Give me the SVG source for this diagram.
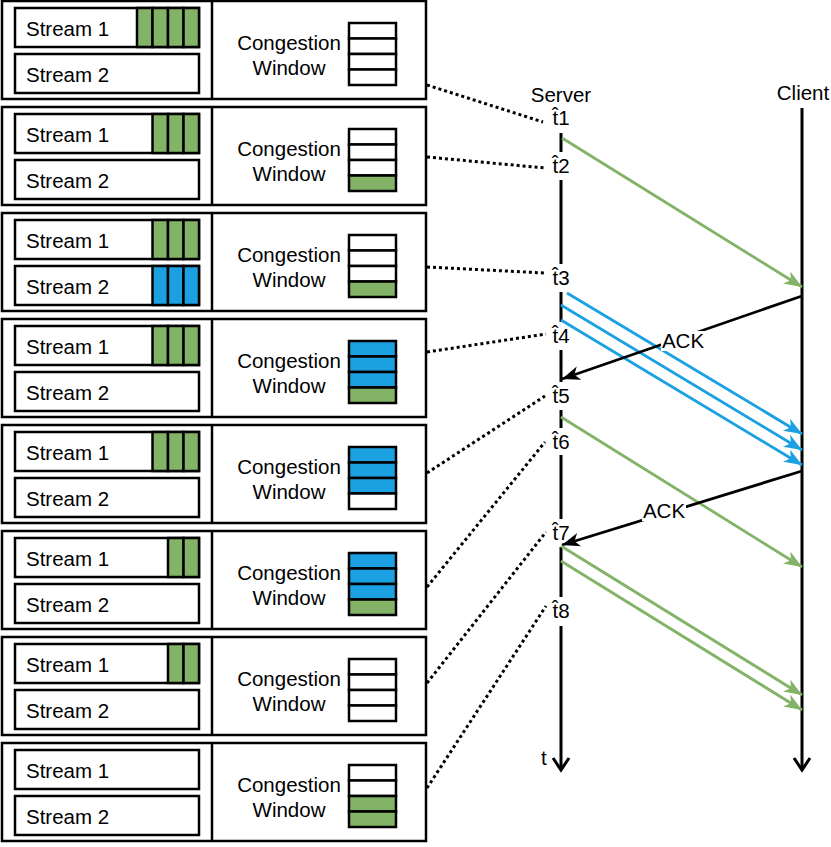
<svg xmlns="http://www.w3.org/2000/svg" width="831" height="847" viewBox="0 0 831 847">
<style>
.box{fill:#fff;stroke:#000;stroke-width:2.5}
.g{fill:#82b366;stroke:#000;stroke-width:2.5}
.b{fill:#1ba1e2;stroke:#000;stroke-width:2.5}
.w{fill:#fff;stroke:#000;stroke-width:2.5}
.div{stroke:#000;stroke-width:2.5}
text{font-family:"Liberation Sans",Arial,sans-serif;font-size:20.5px;fill:#000}
.c{text-anchor:middle}
.dot{stroke:#000;stroke-width:3;stroke-dasharray:3 3;fill:none}
.life{stroke:#000;stroke-width:3;fill:none}
.ga{stroke:#82b366;stroke-width:2.8;fill:none;marker-end:url(#mg)}
.ba{stroke:#1ba1e2;stroke-width:2.8;fill:none;marker-end:url(#mb)}
.ka{stroke:#000;stroke-width:2.8;fill:none;marker-end:url(#mk)}
</style>
<defs>
<marker id="mg" markerUnits="userSpaceOnUse" markerWidth="20" markerHeight="16" refX="18" refY="7" orient="auto"><path d="M0,0 L18,7 L0,14 L5,7 Z" fill="#82b366"/></marker>
<marker id="mb" markerUnits="userSpaceOnUse" markerWidth="20" markerHeight="16" refX="18" refY="7" orient="auto"><path d="M0,0 L18,7 L0,14 L5,7 Z" fill="#1ba1e2"/></marker>
<marker id="mk" markerUnits="userSpaceOnUse" markerWidth="20" markerHeight="16" refX="18" refY="7" orient="auto"><path d="M0,0 L18,7 L0,14 L5,7 Z" fill="#000"/></marker>
<g id="frame">
<rect class="box" x="2" y="0" width="424" height="98"/>
<line class="div" x1="212" y1="0" x2="212" y2="98"/>
<rect class="box" x="15" y="7" width="184" height="39"/>
<rect class="box" x="15" y="53" width="184" height="39"/>
<text x="26" y="35">Stream 1</text>
<text x="26" y="81">Stream 2</text>
<text class="c" x="289" y="49">Congestion</text>
<text class="c" x="289" y="74">Window</text>
</g>
</defs>

<g id="panel1" transform="translate(0,1)">
<use href="#frame"/>
<rect class="g" x="137" y="7" width="15.5" height="39"/><rect class="g" x="152.5" y="7" width="15.5" height="39"/><rect class="g" x="168" y="7" width="15.5" height="39"/><rect class="g" x="183.5" y="7" width="15.5" height="39"/>
<rect class="w" x="349" y="22" width="47" height="15.5"/><rect class="w" x="349" y="37.5" width="47" height="15.5"/><rect class="w" x="349" y="53" width="47" height="15.5"/><rect class="w" x="349" y="68.5" width="47" height="15.5"/>
</g>

<g id="panel2" transform="translate(0,107)">
<use href="#frame"/>
<rect class="g" x="152.5" y="7" width="15.5" height="39"/><rect class="g" x="168" y="7" width="15.5" height="39"/><rect class="g" x="183.5" y="7" width="15.5" height="39"/>
<rect class="w" x="349" y="22" width="47" height="15.5"/><rect class="w" x="349" y="37.5" width="47" height="15.5"/><rect class="w" x="349" y="53" width="47" height="15.5"/><rect class="g" x="349" y="68.5" width="47" height="15.5"/>
</g>

<g id="panel3" transform="translate(0,213)">
<use href="#frame"/>
<rect class="g" x="152.5" y="7" width="15.5" height="39"/><rect class="g" x="168" y="7" width="15.5" height="39"/><rect class="g" x="183.5" y="7" width="15.5" height="39"/>
<rect class="b" x="152.5" y="53" width="15.5" height="39"/><rect class="b" x="168" y="53" width="15.5" height="39"/><rect class="b" x="183.5" y="53" width="15.5" height="39"/>
<rect class="w" x="349" y="22" width="47" height="15.5"/><rect class="w" x="349" y="37.5" width="47" height="15.5"/><rect class="w" x="349" y="53" width="47" height="15.5"/><rect class="g" x="349" y="68.5" width="47" height="15.5"/>
</g>

<g id="panel4" transform="translate(0,319)">
<use href="#frame"/>
<rect class="g" x="152.5" y="7" width="15.5" height="39"/><rect class="g" x="168" y="7" width="15.5" height="39"/><rect class="g" x="183.5" y="7" width="15.5" height="39"/>
<rect class="b" x="349" y="22" width="47" height="15.5"/><rect class="b" x="349" y="37.5" width="47" height="15.5"/><rect class="b" x="349" y="53" width="47" height="15.5"/><rect class="g" x="349" y="68.5" width="47" height="15.5"/>
</g>

<g id="panel5" transform="translate(0,425)">
<use href="#frame"/>
<rect class="g" x="152.5" y="7" width="15.5" height="39"/><rect class="g" x="168" y="7" width="15.5" height="39"/><rect class="g" x="183.5" y="7" width="15.5" height="39"/>
<rect class="b" x="349" y="22" width="47" height="15.5"/><rect class="b" x="349" y="37.5" width="47" height="15.5"/><rect class="b" x="349" y="53" width="47" height="15.5"/><rect class="w" x="349" y="68.5" width="47" height="15.5"/>
</g>

<g id="panel6" transform="translate(0,531)">
<use href="#frame"/>
<rect class="g" x="168" y="7" width="15.5" height="39"/><rect class="g" x="183.5" y="7" width="15.5" height="39"/>
<rect class="b" x="349" y="22" width="47" height="15.5"/><rect class="b" x="349" y="37.5" width="47" height="15.5"/><rect class="b" x="349" y="53" width="47" height="15.5"/><rect class="g" x="349" y="68.5" width="47" height="15.5"/>
</g>

<g id="panel7" transform="translate(0,637)">
<use href="#frame"/>
<rect class="g" x="168" y="7" width="15.5" height="39"/><rect class="g" x="183.5" y="7" width="15.5" height="39"/>
<rect class="w" x="349" y="22" width="47" height="15.5"/><rect class="w" x="349" y="37.5" width="47" height="15.5"/><rect class="w" x="349" y="53" width="47" height="15.5"/><rect class="w" x="349" y="68.5" width="47" height="15.5"/>
</g>

<g id="panel8" transform="translate(0,743)">
<use href="#frame"/>
<rect class="w" x="349" y="22" width="47" height="15.5"/><rect class="w" x="349" y="37.5" width="47" height="15.5"/><rect class="g" x="349" y="53" width="47" height="15.5"/><rect class="g" x="349" y="68.5" width="47" height="15.5"/>
</g>

<g id="server">
<text class="c" x="561" y="102">Server</text>
<path class="life" d="M561,133 V152 M561,180 V264 M561,292 V322 M561,350 V382 M561,410 V428 M561,455 V519 M561,547 V597 M561,626 V770"/>
<polyline class="life" points="553,758 561,770 569,758"/>
<text x="541" y="765">t</text>
</g>

<g id="client">
<text class="c" x="803" y="100">Client</text>
<line class="life" x1="802" y1="108" x2="802" y2="770"/>
<polyline class="life" points="794,758 802,770 810,758"/>
</g>

<g id="timelabels">
<text class="c" x="561" y="125">t̂1</text>
<text class="c" x="561" y="173">t̂2</text>
<text class="c" x="561" y="285">t̂3</text>
<text class="c" x="561" y="343">t̂4</text>
<text class="c" x="561" y="403">t̂5</text>
<text class="c" x="561" y="449">t̂6</text>
<text class="c" x="561" y="540">t̂7</text>
<text class="c" x="561" y="618">t̂8</text>
</g>

<g id="connectors">
<line class="dot" x1="427" y1="85" x2="543" y2="122"/>
<line class="dot" x1="427" y1="157" x2="545" y2="168"/>
<line class="dot" x1="427" y1="267" x2="545" y2="273"/>
<line class="dot" x1="427" y1="352" x2="546" y2="334"/>
<line class="dot" x1="427" y1="473" x2="545" y2="396"/>
<line class="dot" x1="427" y1="587" x2="545" y2="442"/>
<line class="dot" x1="427" y1="683" x2="546" y2="532"/>
<line class="dot" x1="427" y1="788" x2="546" y2="606"/>

<line class="ga" x1="562" y1="138" x2="802" y2="287"/>
<line class="ba" x1="567" y1="293" x2="802" y2="434"/>
<line class="ba" x1="561" y1="305" x2="802" y2="450"/>
<line class="ba" x1="561" y1="320" x2="802" y2="465"/>
<line class="ka" x1="802" y1="296" x2="562" y2="379"/>
<line class="ga" x1="561" y1="417" x2="802" y2="567"/>
<line class="ka" x1="802" y1="471" x2="562" y2="545"/>
<line class="ga" x1="561" y1="546" x2="802" y2="695"/>
<line class="ga" x1="561" y1="561" x2="802" y2="710"/>

<rect x="661" y="331" width="44" height="20" fill="#fff"/>
<text class="c" x="683" y="348">ACK</text>
<rect x="642" y="501" width="44" height="20" fill="#fff"/>
<text class="c" x="664" y="518">ACK</text>
</g>
</svg>
